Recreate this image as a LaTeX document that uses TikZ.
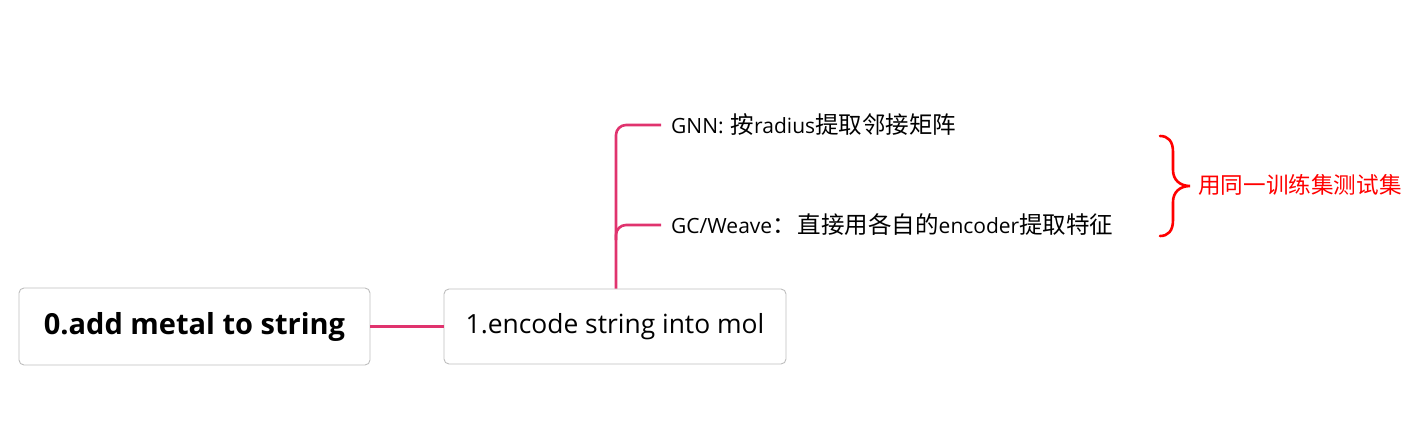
\documentclass[tikz,border=0pt]{standalone}
\usepackage{fontspec}
\setmainfont{Open Sans}
\newfontfamily\cjkfam{Noto Sans CJK SC}
\newcommand{\zh}[1]{{\fontsize{23.5}{24}\selectfont\cjkfam #1}}
\definecolor{linkpink}{RGB}{224,51,110}
\definecolor{boxgray}{RGB}{190,190,190}
\definecolor{bracered}{RGB}{255,0,0}
\begin{document}
\begin{tikzpicture}[x=1pt,y=-1pt,
  topicbox/.style={draw=boxgray,line width=0.9pt,rounded corners=5pt,fill=white},
  link/.style={draw=linkpink,line width=2.6pt},
  leaf/.style={anchor=west,inner sep=0pt,font=\fontsize{21}{24}\selectfont}]
\useasboundingbox (0,0) rectangle (1417,442);
\node[topicbox,minimum width=351pt,minimum height=77pt] (root) at (194.5,326.5)
  {\raisebox{-1.5pt}{\fontsize{29}{32}\selectfont\bfseries 0.add metal to string}};
\node[topicbox,minimum width=342pt,minimum height=75pt] (enc) at (615,326.5)
  {\raisebox{-1.5pt}{\fontsize{26.4}{28}\selectfont 1.encode string into mol}};
\draw[link] (root.east) -- (enc.west);
\node[leaf] (gnn) at (671,125) {GNN:\hspace{7pt}\zh{按}radius\zh{提取邻接矩阵}};
\node[leaf] (gc) at (671,225) {GC/Weave\zh{：}\hspace{2pt}\zh{直接用各自的}encoder\zh{提取特征}};
\draw[link,rounded corners=10pt] (enc.north -| 616,0) -- (616,125) -- (gnn.west -| 661,0);
\draw[link,rounded corners=10pt] (616,240) -- (616,225) -- (gc.west -| 661,0);
\coordinate (btop) at (1160,136);
\coordinate (bbot) at (1160,236);
\coordinate (btip) at (1190,186);
\draw[bracered,line width=2.6pt,line cap=round]
  (btop) .. controls (1168,136) and (1173,141) .. (1173,152)
  -- (1173,170) .. controls (1173,180) and (1180,186) .. (btip)
  .. controls (1180,186) and (1173,192) .. (1173,202)
  -- (1173,220) .. controls (1173,231) and (1168,236) .. (bbot);
\node[anchor=west,inner sep=0pt,text=bracered,font=\fontsize{22.6}{26}\selectfont\cjkfam] (note) at (1198,185) {用同一训练集测试集};
\end{tikzpicture}
\end{document}
